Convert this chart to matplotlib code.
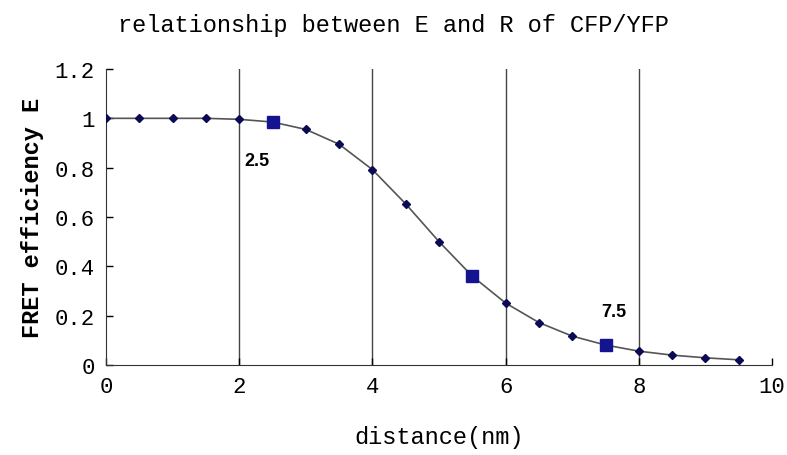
import matplotlib
matplotlib.use("Agg")
import matplotlib.pyplot as plt

# values
distance = [0, 0.5, 1, 1.5, 2, 2.5, 3, 3.5, 4, 4.5, 5, 5.5, 6, 6.5, 7, 7.5, 8, 8.5, 9, 9.5]
efficiency = [1.0, 1.0, 1.0, 1.0, 0.996, 0.985, 0.955, 0.895, 0.792, 0.653, 0.5, 0.36,
              0.251, 0.172, 0.117, 0.081, 0.056, 0.04, 0.029, 0.021]
marked = [2.5, 5.5, 7.5]
labels = {2.5: ("2.5", -11, -28), 7.5: ("7.5", 6, 24)}
xticks = [0, 2, 4, 6, 8, 10]
yticks = [0, 0.2, 0.4, 0.6, 0.8, 1.0, 1.2]
yticklabels = ["0", "0.2", "0.4", "0.6", "0.8", "1", "1.2"]

mono = "Liberation Mono"

fig = plt.figure(figsize=(7.87, 4.56), dpi=100)
ax = fig.add_axes([0.1347, 0.1974, 0.8463, 0.6491])

for gx in [2, 4, 6, 8]:
    ax.axvline(gx, color="#444444", lw=1.0, zorder=1)

ax.plot(distance, efficiency, color="#555555", lw=1.2, zorder=2)
ax.plot(distance, efficiency, ls="none", marker="D", ms=4.5, color="#0a0a55", zorder=3)

sq_y = [efficiency[distance.index(m)] for m in marked]
ax.plot(marked, sq_y, ls="none", marker="s", ms=9, color="#141490", zorder=4)

for x, (t, dx, dy) in labels.items():
    y = efficiency[distance.index(x)]
    ax.annotate(t, (x, y), xytext=(dx, dy), textcoords="offset points", ha="center", va="center",
                fontsize=13, fontweight="bold", family="Liberation Sans")

ax.set_xlim(0, 10)
ax.set_ylim(0, 1.2)
ax.set_xticks(xticks)
ax.set_yticks(yticks)
ax.set_yticklabels(yticklabels)
ax.tick_params(direction="in", length=5, width=1, labelsize=16, pad=8)
for lab in ax.get_xticklabels() + ax.get_yticklabels():
    lab.set_family(mono)

ax.spines["top"].set_visible(False)
ax.spines["right"].set_visible(False)
ax.spines["left"].set_color("#333333")
ax.spines["bottom"].set_color("#333333")

fig.text(0.5, 0.945, "relationship between E and R of CFP/YFP", family=mono, fontsize=17,
         ha="center", va="center")
ax.set_xlabel("distance(nm)", family=mono, fontsize=17, labelpad=20)
ax.set_ylabel("FRET efficiency E", family=mono, fontsize=17, fontweight="bold", labelpad=8)

fig.savefig("out.png", dpi=100)
